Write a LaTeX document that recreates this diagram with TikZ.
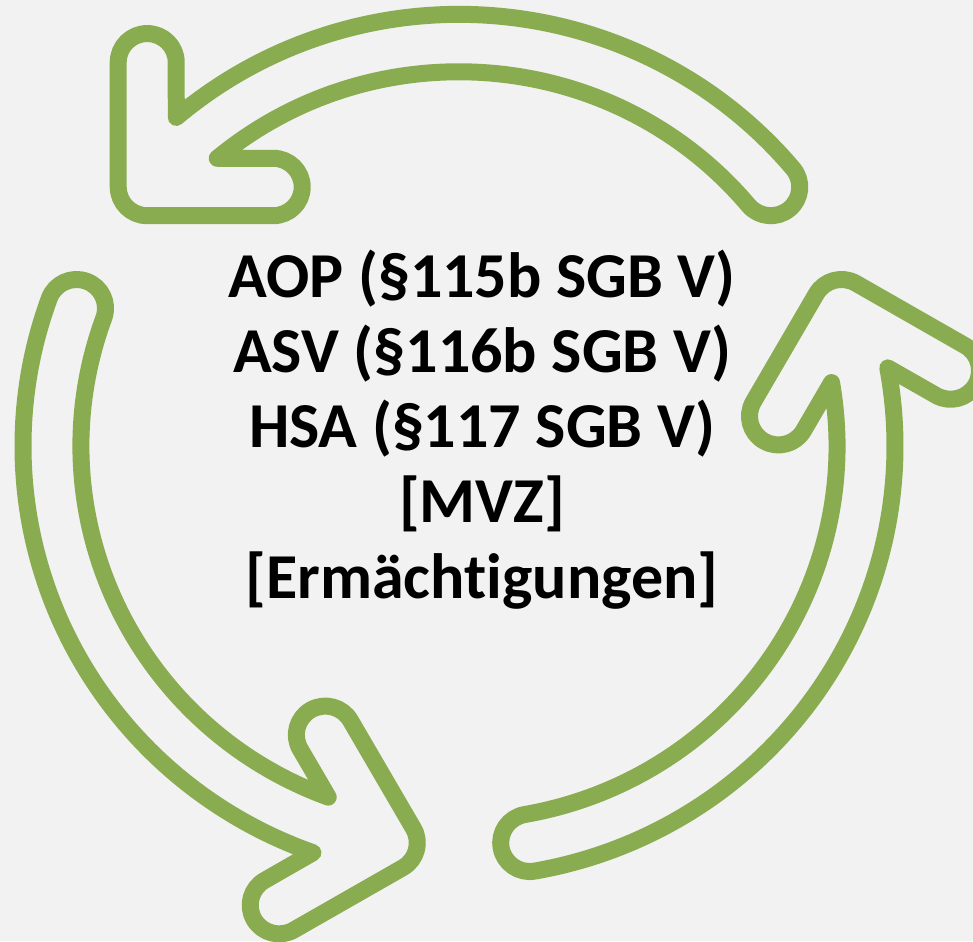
\documentclass[tikz,border=0pt]{standalone}
\usepackage{fontspec}
\setmainfont{Carlito}[Ligatures={NoCommon}]
\definecolor{leaf}{RGB}{138,172,81}
\definecolor{bg}{RGB}{242,242,242}
\begin{document}
\begin{tikzpicture}[x=1pt,y=-1pt,
  arrowline/.style={draw=leaf, line width=17pt, line join=round},
  lawtext/.style={font=\fontsize{64}{64}\selectfont\bfseries, anchor=base, inner sep=0pt, text=black}]
\useasboundingbox (0,0) rectangle (973,941);
\fill[bg] (0,0) rectangle (973,941);
\clip (0,0) rectangle (973,941);
\begin{scope}[shift={(459,446)}, x=1pt, y=1pt, yscale=0.99]
\foreach \r in {0,-120,120}{
 \draw[arrowline, rotate=\r]
   (40:436) arc[start angle=40, end angle=130.43, radius=436]
   -- (-282.78,387.62) arc[start angle=0, end angle=180, radius=29]
   -- (-340.78,261.62) arc[start angle=180, end angle=270, radius=29]
   -- (-185.78,232.62) arc[start angle=-90, end angle=90, radius=29]
   -- (-241.7,290.62) arc[start angle=129.75, end angle=40, radius=378]
   arc[start angle=220, end angle=400, radius=29] -- cycle;
}
\end{scope}
\node[lawtext] (l1) at (482,297) {AOP (§115b SGB V)};
\node[lawtext] (l2) at (482,372) {ASV (§116b SGB V)};
\node[lawtext] (l3) at (482,447) {HSA (§117 SGB V)};
\node[lawtext] (l4) at (482,522) {[MVZ]};
\node[lawtext] (l5) at (482,598) {[Ermächtigungen]};
\end{tikzpicture}
\end{document}
